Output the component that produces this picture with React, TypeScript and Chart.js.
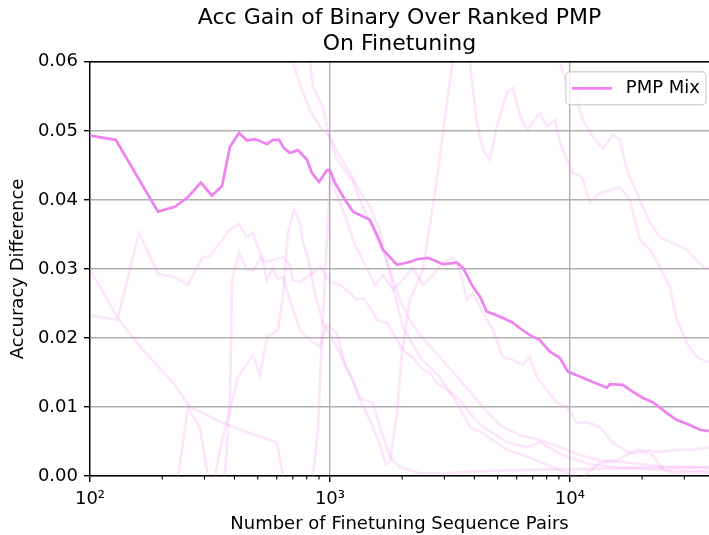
import React, { useEffect, useRef } from 'react';
import { Chart, registerables } from 'chart.js';

Chart.register(...registerables);

const titleLines = ['Acc Gain of Binary Over Ranked PMP', 'On Finetuning'];
const xTitle = 'Number of Finetuning Sequence Pairs';
const yTitle = 'Accuracy Difference';
const xMin = 100;
const xMax = 38000;
const yMin = 0;
const yMax = 0.06;
const yStep = 0.01;
const xTickValues = [100, 1000, 10000];
const xTickLabels = ['10²', '10³', '10⁴'];
const xMinorTicks = [200, 300, 400, 500, 600, 700, 800, 900, 2000, 3000, 4000, 5000, 6000, 7000, 8000, 9000, 20000, 30000];

const mixLabel = 'PMP Mix';
const mixX = [100, 128, 192, 226, 256, 290, 322, 355, 383, 418, 451, 487, 546, 580, 614, 643, 681, 736, 802, 841, 900, 972, 1000, 1049, 1155, 1247, 1334, 1468, 1585, 1663, 1902, 2154, 2304, 2560, 2957, 3383, 3583, 3943, 4217, 4510, 4778, 5258, 5786, 6190, 6813, 7499, 8254, 9085, 9812, 10194, 12467, 14261, 14678, 16629, 18303, 20148, 22174, 25364, 27911, 31623, 34807, 37957];
const mixY = [0.0493, 0.0487, 0.0383, 0.0390, 0.0404, 0.0425, 0.0406, 0.0420, 0.0477, 0.0497, 0.0486, 0.0488, 0.0481, 0.0487, 0.0487, 0.0475, 0.0468, 0.0472, 0.0458, 0.0439, 0.0426, 0.0443, 0.0443, 0.0425, 0.0400, 0.0383, 0.0378, 0.0371, 0.0346, 0.0328, 0.0306, 0.0310, 0.0314, 0.0316, 0.0307, 0.0309, 0.0302, 0.0274, 0.0260, 0.0238, 0.0235, 0.0229, 0.0222, 0.0214, 0.0204, 0.0197, 0.0180, 0.0171, 0.0151, 0.0149, 0.0136, 0.0128, 0.0133, 0.0132, 0.0122, 0.0113, 0.0107, 0.0091, 0.0081, 0.0074, 0.0067, 0.0065];

// individual faint runs
const runAX = [668, 701, 750, 825, 909, 1000, 1101, 1212, 1334, 1468, 1616, 1728, 1902, 2014, 2371, 2873, 3383, 3831, 4341, 5464, 6620, 8497, 9716, 11773];
const runAY = [0.0632, 0.0599, 0.0567, 0.0530, 0.0506, 0.0491, 0.0462, 0.0439, 0.0412, 0.0390, 0.0357, 0.0310, 0.0251, 0.0216, 0.0172, 0.0143, 0.0106, 0.0071, 0.0062, 0.0038, 0.0028, 0.0013, 0.0004, -0.0006];

const runBX = [787, 825, 850, 935, 1000, 1069, 1235, 1334, 1468, 1616, 1778, 1957, 2154, 2371, 2686, 3073, 3481, 3943, 4510, 5109, 6190, 7499, 9085, 11007, 13335, 17783, 23714, 37957];
const runBY = [0.0632, 0.0599, 0.0564, 0.0535, 0.0487, 0.0458, 0.0429, 0.0400, 0.0368, 0.0335, 0.0299, 0.0255, 0.0226, 0.0204, 0.0183, 0.0161, 0.0139, 0.0117, 0.0093, 0.0074, 0.0059, 0.0052, 0.0042, 0.0030, 0.0023, 0.0019, 0.0014, 0.0012];

const runCX = [100, 130, 162, 222, 261, 358, 464, 601, 637, 681];
const runCY = [0.0299, 0.0230, 0.0187, 0.0135, 0.0100, 0.0077, 0.0062, 0.0049, 0.0000, -0.0030];

const runDX = [100, 130, 160, 192, 226, 256, 293, 316, 383, 418, 451, 478, 526, 579, 637, 681, 701, 750, 825, 909, 1000, 1101, 1212, 1296, 1373, 1468, 1570, 1728, 1902, 2014, 2217, 2441, 2610, 2791, 3073, 3481, 3831, 4341, 4778, 5464, 6620, 7499, 8497, 9716, 12115, 16156, 23714, 37957];
const runDY = [0.0233, 0.0226, 0.0352, 0.0293, 0.0288, 0.0277, 0.0316, 0.0319, 0.0357, 0.0365, 0.0346, 0.0352, 0.0310, 0.0313, 0.0317, 0.0306, 0.0284, 0.0281, 0.0291, 0.0303, 0.0281, 0.0277, 0.0265, 0.0255, 0.0258, 0.0245, 0.0226, 0.0222, 0.0197, 0.0183, 0.0171, 0.0154, 0.0149, 0.0135, 0.0125, 0.0110, 0.0091, 0.0071, 0.0062, 0.0049, 0.0042, 0.0049, 0.0038, 0.0028, 0.0017, 0.0012, 0.0009, 0.0007];

const runEX = [215, 233, 256, 287, 310, 322];
const runEY = [-0.0030, 0.0000, 0.0099, 0.0070, 0.0000, -0.0040];

const runFX = [355, 365, 383, 391, 418, 451, 478, 521, 546, 579, 607, 637, 681, 750, 825, 909, 972, 1069, 1155, 1247, 1334, 1511, 1616, 1778, 1957, 2371, 2873, 4217, 6813, 11007, 19574, 37957];
const runFY = [-0.0020, 0.0000, 0.0106, 0.0284, 0.0323, 0.0299, 0.0297, 0.0319, 0.0284, 0.0301, 0.0286, 0.0288, 0.0255, 0.0212, 0.0197, 0.0187, 0.0219, 0.0207, 0.0161, 0.0139, 0.0113, 0.0106, 0.0071, 0.0028, 0.0013, 0.0004, 0.0004, 0.0007, 0.0009, 0.0010, 0.0012, 0.0013];

const runGX = [332, 355, 383, 414, 478, 511, 546, 607, 637, 668, 708, 750, 772, 810, 866, 935, 1069, 1212, 1334, 1468, 1616, 1711, 1778, 1902, 1995, 2154, 2441, 2791, 3073, 3224, 3318, 3652, 3831, 4097, 4341, 4642, 4963, 5464, 5786, 6190, 6620, 7013, 7499, 8020, 8664, 9085, 9716, 10292, 11220, 12115, 13335, 14678, 16156, 17783, 19574, 21544, 23714, 26102, 27911, 30726, 33830, 37957];
const runGY = [0.0000, 0.0052, 0.0096, 0.0143, 0.0175, 0.0146, 0.0201, 0.0212, 0.0259, 0.0352, 0.0386, 0.0367, 0.0338, 0.0317, 0.0265, 0.0222, 0.0187, 0.0146, 0.0110, 0.0081, 0.0045, 0.0016, 0.0020, 0.0091, 0.0178, 0.0255, 0.0299, 0.0429, 0.0541, 0.0593, 0.0617, 0.0617, 0.0599, 0.0512, 0.0472, 0.0458, 0.0506, 0.0555, 0.0562, 0.0523, 0.0501, 0.0513, 0.0526, 0.0506, 0.0516, 0.0483, 0.0458, 0.0439, 0.0433, 0.0396, 0.0410, 0.0414, 0.0419, 0.0400, 0.0342, 0.0328, 0.0303, 0.0274, 0.0226, 0.0193, 0.0172, 0.0165];

const runHX = [787, 850, 891, 909, 944, 972, 1000, 1049, 1155, 1271, 1399, 1540, 1663, 1830, 2014, 2217, 2441, 2686, 2957, 3255, 3481, 3723, 3943, 4510, 4778, 5258, 5786, 6370, 6813, 7288, 8020, 8826, 9716, 10694, 11773, 13335, 15109, 17783, 20148, 22174, 24406, 27911, 34807, 37957];
const runHY = [-0.0020, 0.0000, 0.0067, 0.0139, 0.0255, 0.0342, 0.0436, 0.0414, 0.0378, 0.0335, 0.0306, 0.0277, 0.0291, 0.0270, 0.0284, 0.0301, 0.0277, 0.0291, 0.0310, 0.0316, 0.0299, 0.0255, 0.0265, 0.0226, 0.0212, 0.0172, 0.0168, 0.0161, 0.0172, 0.0143, 0.0125, 0.0106, 0.0100, 0.0077, 0.0078, 0.0071, 0.0048, 0.0033, 0.0035, 0.0030, 0.0009, 0.0004, 0.0006, 0.0004];

const runIX = [9085, 11328, 13335, 15700, 19020, 23714, 27911, 32546, 37957];
const runIY = [-0.0020, -0.0001, 0.0019, 0.0023, 0.0038, 0.0035, 0.0038, 0.0038, 0.0041];

const runJX = [8254, 8743, 9085, 9716, 10694, 11328, 12467, 13725, 15109, 16156, 17278, 19574, 21544, 23714, 30726, 35832, 37957];
const runJY = [0.0646, 0.0617, 0.0599, 0.0567, 0.0545, 0.0516, 0.0491, 0.0475, 0.0494, 0.0487, 0.0443, 0.0400, 0.0367, 0.0346, 0.0328, 0.0303, 0.0301];

const runs: [number[], number[]][] = [
  [runAX, runAY], [runBX, runBY], [runCX, runCY], [runDX, runDY], [runEX, runEY],
  [runFX, runFY], [runGX, runGY], [runHX, runHY], [runIX, runIY], [runJX, runJY],
];

const MAIN = 'rgb(238,130,238)';
const FAINT = 'rgba(238,130,238,0.2)';
const FONT = '"DejaVu Sans"';

function zip(xs: number[], ys: number[]) {
  return xs.map((x, i) => ({ x, y: ys[i] }));
}

const framePlugin = {
  id: 'frameTop',
  afterDraw(chart: any) {
    const { ctx, chartArea } = chart;
    ctx.save();
    ctx.strokeStyle = '#000';
    ctx.lineWidth = 1.4;
    ctx.beginPath();
    ctx.moveTo(chartArea.left, chartArea.top);
    ctx.lineTo(chartArea.right, chartArea.top);
    ctx.stroke();
    // minor ticks on the log axis
    const xs = chart.scales.x;
    ctx.lineWidth = 1.1;
    for (const v of xMinorTicks) {
      const px = xs.getPixelForValue(v);
      ctx.beginPath();
      ctx.moveTo(px, chartArea.bottom);
      ctx.lineTo(px, chartArea.bottom + 3.6);
      ctx.stroke();
    }
    ctx.restore();
  },
};

const legendPlugin = {
  id: 'boxLegend',
  afterDraw(chart: any) {
    const { ctx, chartArea } = chart;
    const ds = chart.data.datasets[0];
    ctx.save();
    ctx.font = `18px ${FONT}`;
    const tw = ctx.measureText(ds.label).width;
    const pad = 6, handle = 40, gap = 14;
    const w = pad + handle + gap + tw + pad;
    const h = 33;
    const x0 = chartArea.right - 3 - w;
    const y0 = chartArea.top + 10;
    const r = 4;
    ctx.beginPath();
    ctx.moveTo(x0 + r, y0);
    ctx.lineTo(x0 + w - r, y0);
    ctx.arcTo(x0 + w, y0, x0 + w, y0 + r, r);
    ctx.lineTo(x0 + w, y0 + h - r);
    ctx.arcTo(x0 + w, y0 + h, x0 + w - r, y0 + h, r);
    ctx.lineTo(x0 + r, y0 + h);
    ctx.arcTo(x0, y0 + h, x0, y0 + h - r, r);
    ctx.lineTo(x0, y0 + r);
    ctx.arcTo(x0, y0, x0 + r, y0, r);
    ctx.closePath();
    ctx.fillStyle = 'rgba(255,255,255,0.8)';
    ctx.fill();
    ctx.strokeStyle = 'rgba(204,204,204,0.8)';
    ctx.lineWidth = 1.4;
    ctx.stroke();
    const cy = y0 + h / 2;
    ctx.strokeStyle = ds.borderColor;
    ctx.lineWidth = ds.borderWidth;
    ctx.beginPath();
    ctx.moveTo(x0 + pad, cy);
    ctx.lineTo(x0 + pad + handle, cy);
    ctx.stroke();
    ctx.fillStyle = '#000';
    ctx.textBaseline = 'middle';
    ctx.textAlign = 'left';
    ctx.fillText(ds.label, x0 + pad + handle + gap, cy);
    ctx.restore();
  },
};

export default function App() {
  const ref = useRef<HTMLCanvasElement>(null);
  useEffect(() => {
    const canvas = ref.current;
    if (!canvas) return;
    Chart.defaults.font.family = FONT;
    const datasets: any[] = [
      { label: mixLabel, data: zip(mixX, mixY), borderColor: MAIN, borderWidth: 2.7, pointRadius: 0, tension: 0, fill: false },
      ...runs.map(([xs, ys], i) => ({
        label: `run ${i + 1}`,
        data: zip(xs, ys),
        borderColor: FAINT,
        borderWidth: 2.7,
        pointRadius: 0,
        tension: 0,
        fill: false,
      })),
    ];
    const tickFont = { family: FONT, size: 18 };
    const chart = new Chart(canvas, {
      type: 'line',
      data: { datasets },
      options: {
        animation: false,
        responsive: false,
        devicePixelRatio: 1,
        layout: { padding: 0 },
        plugins: {
          legend: { display: false },
          tooltip: { enabled: false },
          title: {
            display: true,
            text: titleLines,
            fullSize: false,
            color: '#000',
            font: { family: FONT, size: 22, weight: 'normal', lineHeight: 1.2 },
            padding: { top: 5, bottom: 4 },
          },
        },
        scales: {
          x: {
            type: 'logarithmic',
            min: xMin,
            max: xMax,
            afterFit: (s: any) => { s.height = 59; },
            afterBuildTicks: (s: any) => { s.ticks = xTickValues.map((v) => ({ value: v })); },
            ticks: {
              autoSkip: false,
              maxRotation: 0,
              color: '#000',
              font: tickFont,
              padding: 7,
              callback: (v: any) => {
                const i = xTickValues.indexOf(Number(v));
                return i >= 0 ? xTickLabels[i] : '';
              },
            },
            grid: { color: '#b0b0b0', lineWidth: 1.4, tickColor: '#000', tickLength: 6, tickWidth: 1.4 },
            border: { color: '#000', width: 1.4 },
            title: { display: true, text: xTitle, color: '#000', font: { family: FONT, size: 18 }, padding: { top: 0, bottom: 0 } },
          },
          y: {
            type: 'linear',
            min: yMin,
            max: yMax,
            afterFit: (s: any) => { s.width = 90; },
            ticks: {
              stepSize: yStep,
              color: '#000',
              font: tickFont,
              padding: 6,
              callback: (v: any) => Number(v).toFixed(2),
            },
            grid: { color: '#b0b0b0', lineWidth: 1.4, tickColor: '#000', tickLength: 6, tickWidth: 1.4 },
            border: { color: '#000', width: 1.4 },
            title: { display: true, text: yTitle, color: '#000', font: { family: FONT, size: 18 }, padding: { top: 8, bottom: 0 } },
          },
        },
      } as any,
      plugins: [framePlugin, legendPlugin],
    });
    return () => chart.destroy();
  }, []);
  return (
    <div style={{ position: 'fixed', left: 0, top: 0, width: 709, height: 535, background: '#fff' }}>
      <canvas ref={ref} width={709} height={535} style={{ width: 709, height: 535, display: 'block' }} />
    </div>
  );
}
